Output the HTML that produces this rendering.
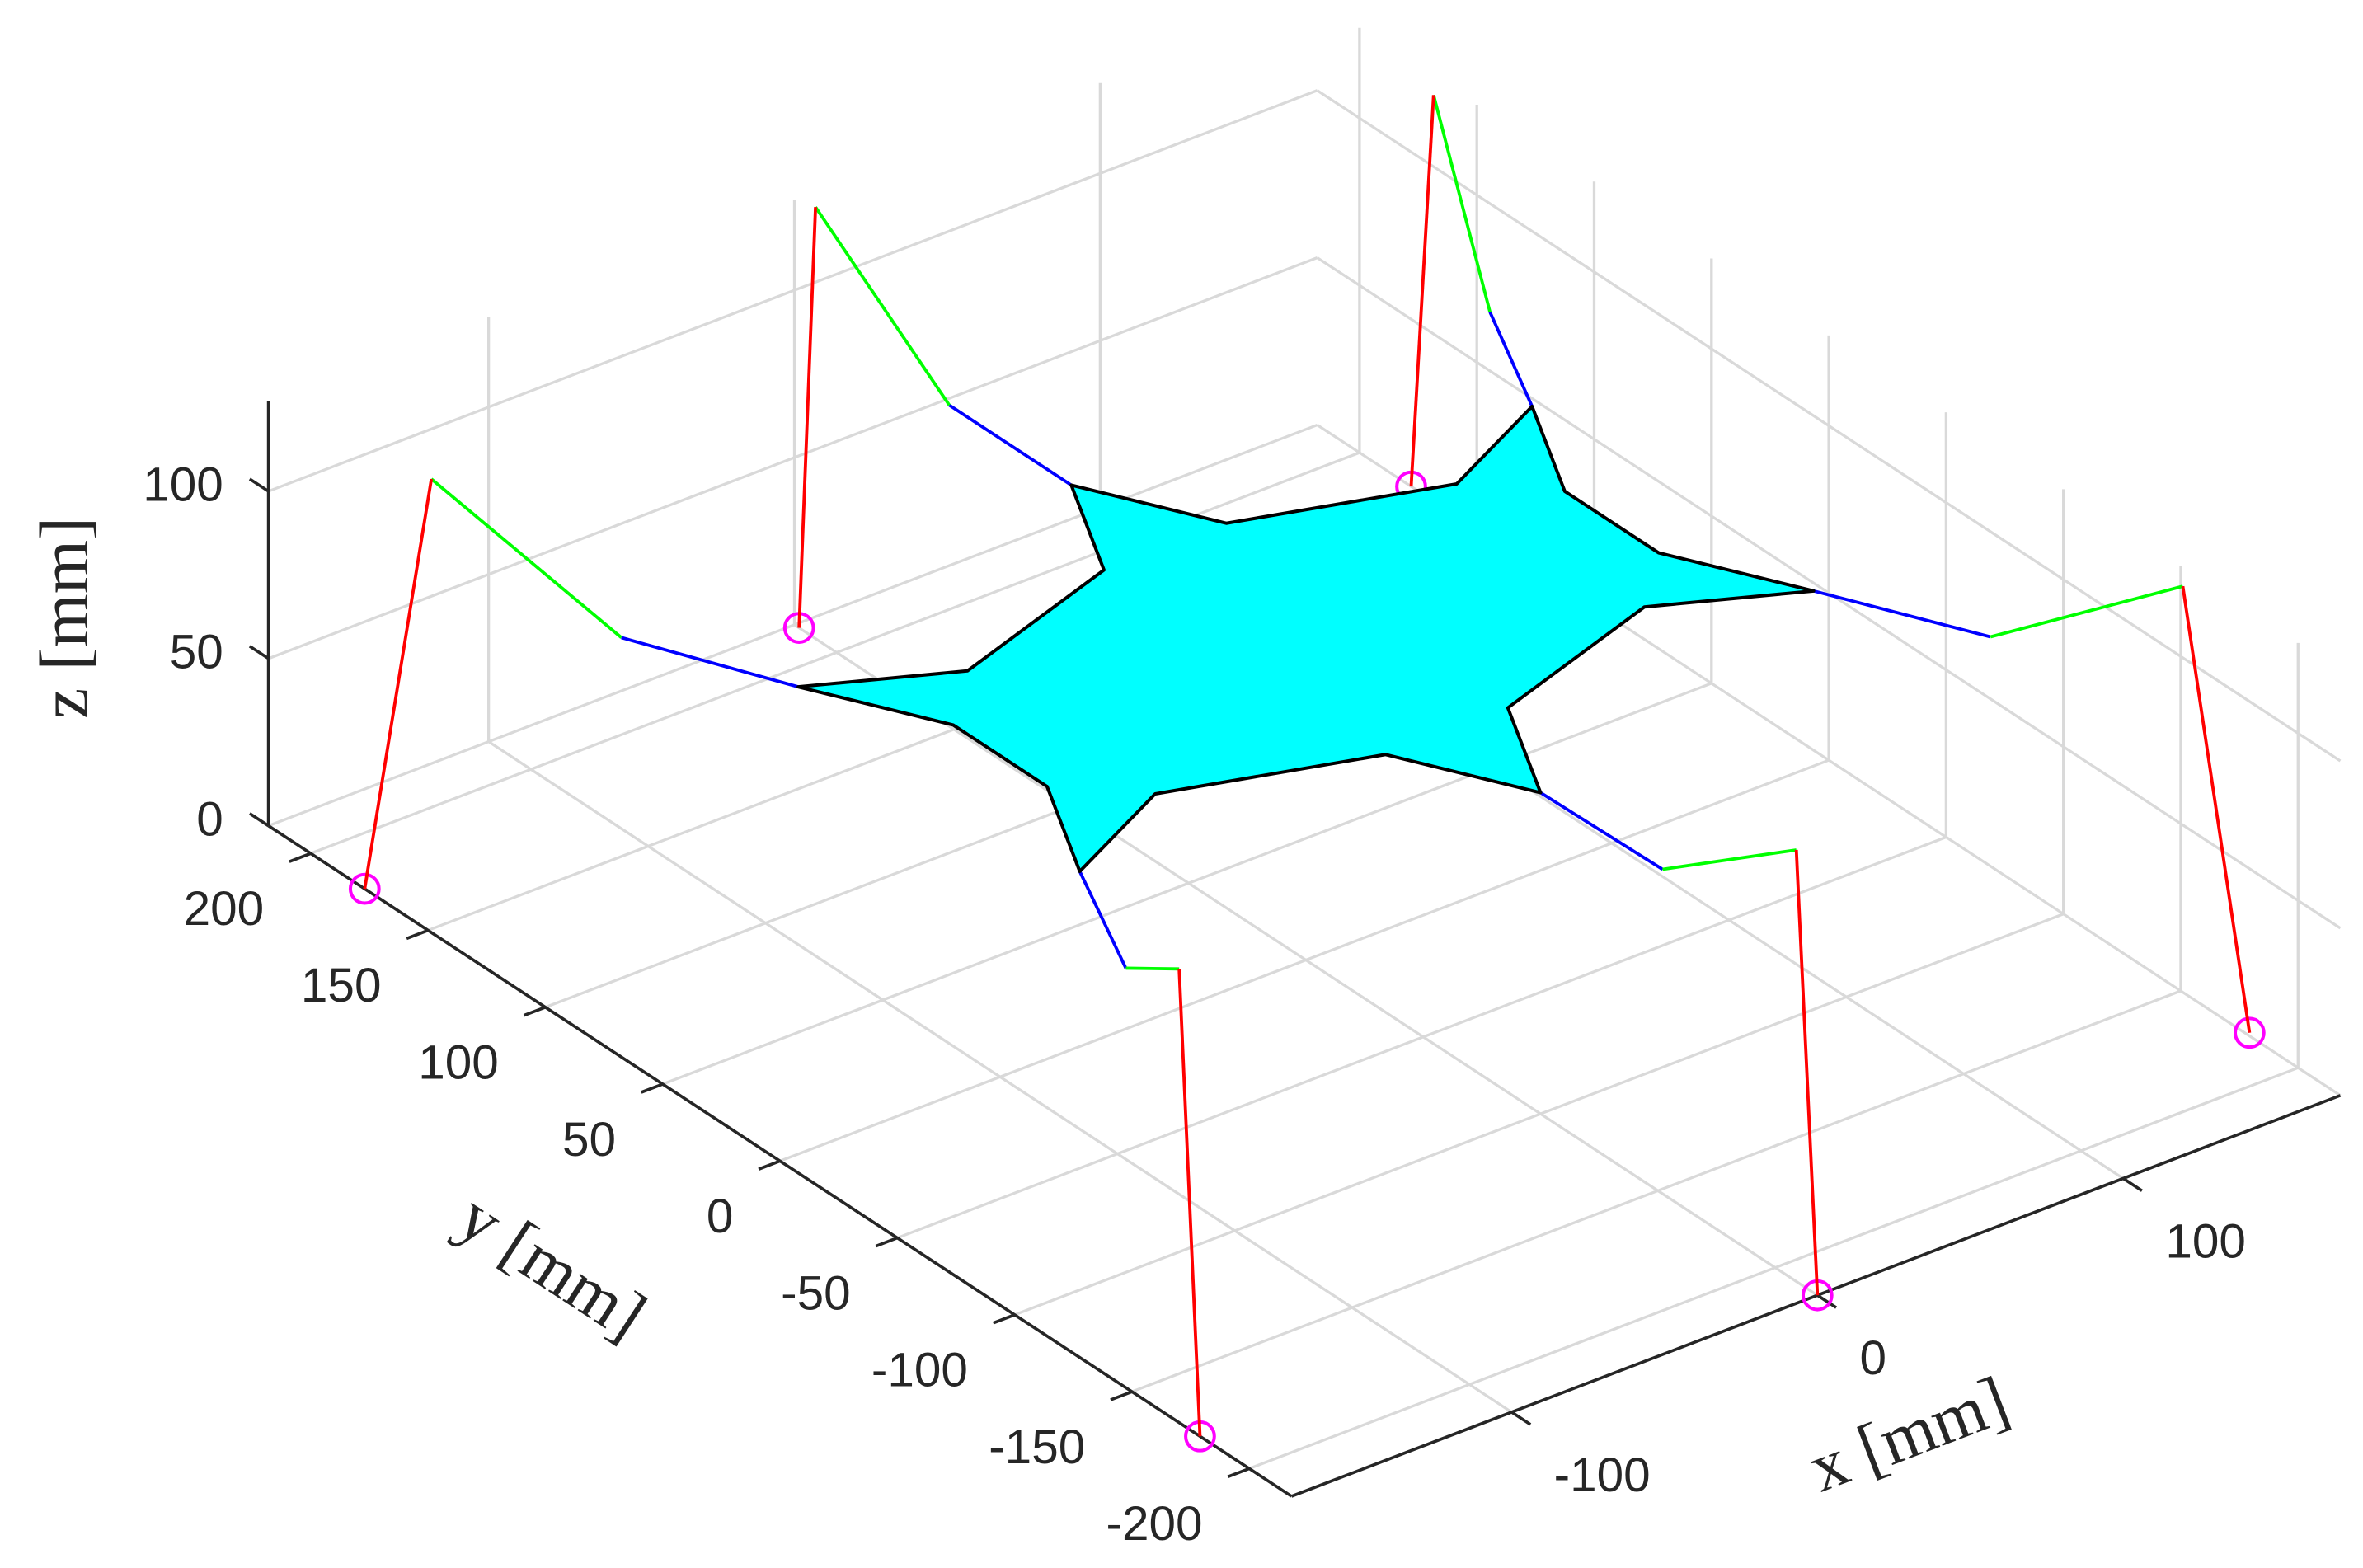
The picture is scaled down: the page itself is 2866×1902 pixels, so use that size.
<!DOCTYPE html>
<html><head><meta charset="utf-8"><style>
html,body{margin:0;padding:0;background:#fff;}
svg{display:block;}
text{font-family:"Liberation Sans",Arial,sans-serif;fill:#262626;}
.ttl{font-family:"Liberation Serif","Times New Roman",serif;}
</style></head><body>
<svg id="chart" xmlns="http://www.w3.org/2000/svg" width="2866" height="1902" viewBox="0 0 1568 1040.6" preserveAspectRatio="none">
<g id="grid"></g>
<g id="axes"></g>
<g id="legs"></g>
<g id="body"></g>
<text class="ttl" x="0" y="0" font-size="46" text-anchor="middle" transform="translate(58,410) rotate(-90)">z [mm]</text>
<text class="ttl" x="0" y="0" font-size="46" text-anchor="middle" transform="translate(358,853) rotate(33.2)">y [mm]</text>
<text class="ttl" x="0" y="0" font-size="46" text-anchor="middle" transform="translate(1272,966) rotate(-20.9)">x [mm]</text>
</svg>
<script>
// axis limits
const xLim = [-172, 171];
const yLim = [-218, 218];
const zLim = [0, 127];
// ticks
const xTicks = [-100, 0, 100];
const yTicks = [200, 150, 100, 50, 0, -50, -100, -150, -200];
const zTicks = [0, 50, 100];
// body polygon (mm), flat at bodyZ
const bodyX = [0, 20, 80, 120, 100, 100, 120, 80, 20, 0, -20, -80, -120, -100, -100, -120, -80, -20];
const bodyY = [100, 60, 40, 60, 20, -20, -60, -40, -60, -100, -60, -40, -60, -20, 20, 60, 40, 60];
const bodyZ = 96;
// legs: attach (coxa), knee, top joint, foot
const attachX = [-120, 0, 120, 120, 0, -120];
const attachY = [60, 100, 60, -60, -100, -60];
const kneeX = [-141, 0, 140, 141, 0, -141];
const kneeY = [108, 152, 104, -108, -152, -107];
const kneeZ = [96, 96, 97, 97, 97, 96];
const topX = [-164, 0, 163, 164, 0, -165];
const topY = [159, 209, 158, -160, -209, -161];
const topZ = [128, 129, 129, 128, 129, 129];
const footX = [-172, 0, 171, 172, 0, -172];
const footY = [177, 216, 178, -178, -218, -179];
const footZ = [0, 0, 0, 0, 0, 0];

const NS = "http://www.w3.org/2000/svg";
function P(x, y, z) {
  const a = x - xLim[0], b = y - yLim[0];
  return [857 + a * 2.029 - b * 1.557, 993 - a * 0.7755 - b * 1.0206 - z * 2.22];
}
function line(g, p, q, stroke, w, name) {
  const l = document.createElementNS(NS, "line");
  l.setAttribute("x1", p[0]); l.setAttribute("y1", p[1]);
  l.setAttribute("x2", q[0]); l.setAttribute("y2", q[1]);
  l.setAttribute("stroke", stroke); l.setAttribute("stroke-width", w);
  
  
  g.appendChild(l);
  return l;
}
function label(g, p, txt, anchor, name) {
  const t = document.createElementNS(NS, "text");
  t.setAttribute("x", p[0]); t.setAttribute("y", p[1]);
  t.setAttribute("font-size", "32");
  t.setAttribute("text-anchor", anchor);
  t.setAttribute("dominant-baseline", "middle");
  t.textContent = txt;
  
  
  g.appendChild(t);
}
const grid = document.getElementById("grid");
const GC = "#d9d9d9", GW = 1.8;
xTicks.forEach(v => line(grid, P(v, yLim[0], 0), P(v, yLim[1], 0), GC, GW, "floor-grid-x"));
yTicks.forEach(v => line(grid, P(xLim[0], v, 0), P(xLim[1], v, 0), GC, GW, "floor-grid-y"));
xTicks.forEach(v => line(grid, P(v, yLim[1], 0), P(v, yLim[1], zLim[1]), GC, GW, "back-wall-grid-x"));
zTicks.forEach(v => line(grid, P(xLim[0], yLim[1], v), P(xLim[1], yLim[1], v), GC, GW, "back-wall-grid-z"));
yTicks.forEach(v => line(grid, P(xLim[1], v, 0), P(xLim[1], v, zLim[1]), GC, GW, "side-wall-grid-y"));
zTicks.forEach(v => line(grid, P(xLim[1], yLim[0], v), P(xLim[1], yLim[1], v), GC, GW, "side-wall-grid-z"));

const axes = document.getElementById("axes");
const AC = "#262626", AW = 2;
line(axes, P(xLim[0], yLim[1], 0), P(xLim[0], yLim[1], zLim[1]), AC, AW, "z-axis-line");
line(axes, P(xLim[0], yLim[1], 0), P(xLim[0], yLim[0], 0), AC, AW, "y-axis-line");
line(axes, P(xLim[0], yLim[0], 0), P(xLim[1], yLim[0], 0), AC, AW, "x-axis-line");
zTicks.forEach(v => {
  const p = P(xLim[0], yLim[1], v);
  line(axes, p, P(xLim[0], yLim[1] + 8, v), AC, AW, "z-tick");
  label(axes, [p[0] - 30, p[1] - 2], String(v), "end", "z-tick-label");
});
yTicks.forEach(v => {
  const p = P(xLim[0], v, 0);
  line(axes, p, P(xLim[0] - 7, v, 0), AC, AW, "y-tick");
  label(axes, [p[0] - 31, p[1] + 39], String(v), "end", "y-tick-label");
});
xTicks.forEach(v => {
  const p = P(v, yLim[0], 0);
  line(axes, p, P(v, yLim[0] - 8, 0), AC, AW, "x-tick");
  label(axes, [p[0] + 28, p[1] + 44], String(v), "start", "x-tick-label");
});

const legs = document.getElementById("legs");
for (let i = 0; i < attachX.length; i++) {
  const a = P(attachX[i], attachY[i], bodyZ);
  const k = P(kneeX[i], kneeY[i], kneeZ[i]);
  const t = P(topX[i], topY[i], topZ[i]);
  const f = P(footX[i], footY[i], footZ[i]);
  const c = document.createElementNS(NS, "circle");
  c.setAttribute("cx", f[0]); c.setAttribute("cy", f[1]); c.setAttribute("r", 9.5);
  c.setAttribute("fill", "none"); c.setAttribute("stroke", "#ff00ff"); c.setAttribute("stroke-width", 2.2);
  
  
  legs.appendChild(c);
  line(legs, a, k, "#0000ff", 2.1, "coxa-segment");
  line(legs, k, t, "#00ff00", 2.1, "femur-segment");
  line(legs, t, f, "#ff0000", 2.1, "tibia-segment");
}

const body = document.getElementById("body");
const pts = bodyX.map((x, i) => P(x, bodyY[i], bodyZ).join(",")).join(" ");
const poly = document.createElementNS(NS, "polygon");
poly.setAttribute("points", pts);
poly.setAttribute("fill", "#00ffff");
poly.setAttribute("stroke", "#000");
poly.setAttribute("stroke-width", 2.2);
poly.setAttribute("stroke-linejoin", "round");


body.appendChild(poly);
</script>
</body></html>
